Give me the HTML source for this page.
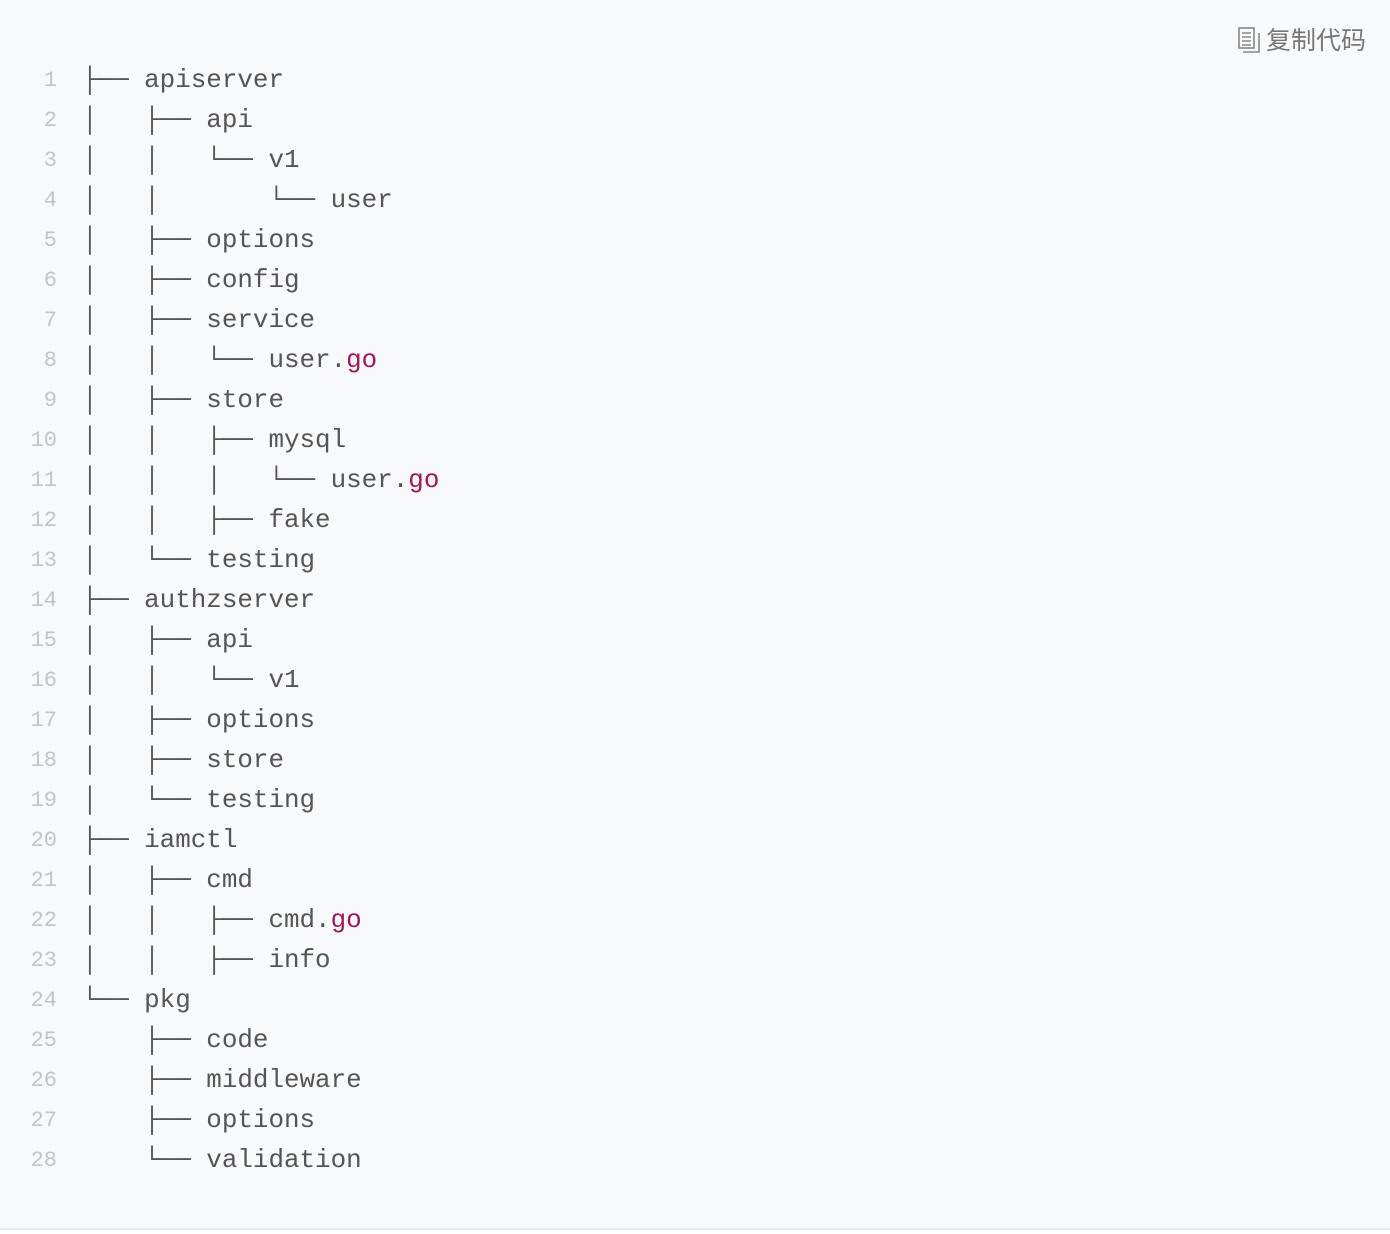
<!DOCTYPE html>
<html><head><meta charset="utf-8"><style>
html,body{margin:0;padding:0;background:#fff;}
.wrap{position:absolute;left:0;top:0;width:1390px;height:1228px;background:#f8f9fb;border-bottom:2px solid #e6e8eb;}
.copy{position:absolute;right:24px;top:24px;font-family:"Liberation Sans","Noto Sans CJK SC",sans-serif;font-size:25px;color:#777;line-height:34px;}
.copy svg{vertical-align:-4px;margin-right:6px;}
.ln{position:absolute;left:0;width:57px;text-align:right;font-family:"Liberation Mono",monospace;font-size:22px;color:#c0c4cc;}
.code{position:absolute;left:82px;font-family:"Liberation Mono",monospace;font-size:25.9px;color:#555;white-space:pre;}
.r{color:#a3155a;}
.row{position:absolute;height:40px;line-height:40px;}
</style></head><body><div class="wrap">
<div class="copy"><svg width="22" height="26" viewBox="0 0 22 26"><rect x="1" y="1" width="15" height="20" fill="none" stroke="#888" stroke-width="1.6"/><path d="M5 25H21V6" fill="none" stroke="#888" stroke-width="1.6"/><path d="M4 6h9M4 10h9M4 14h9M4 18h9" stroke="#888" stroke-width="1.4"/></svg>复制代码</div>
<div id="c"></div>
</div>
<script>
var L=["├── apiserver","│   ├── api","│   │   └── v1","│   │       └── user","│   ├── options","│   ├── config","│   ├── service","│   │   └── user.<go>","│   ├── store","│   │   ├── mysql","│   │   │   └── user.<go>","│   │   ├── fake","│   └── testing","├── authzserver","│   ├── api","│   │   └── v1","│   ├── options","│   ├── store","│   └── testing","├── iamctl","│   ├── cmd","│   │   ├── cmd.<go>","│   │   ├── info","└── pkg","    ├── code","    ├── middleware","    ├── options","    └── validation"];
var h="";
L.forEach(function(s,i){var y=60+i*40;
s=s.replace("<go>","<span class=r>go</span>");
h+='<div class="row ln" style="top:'+(y+1)+'px">'+(i+1)+'</div><div class="row code" style="top:'+y+'px">'+s+'</div>';});
document.getElementById("c").innerHTML=h;
</script>
</body></html>
